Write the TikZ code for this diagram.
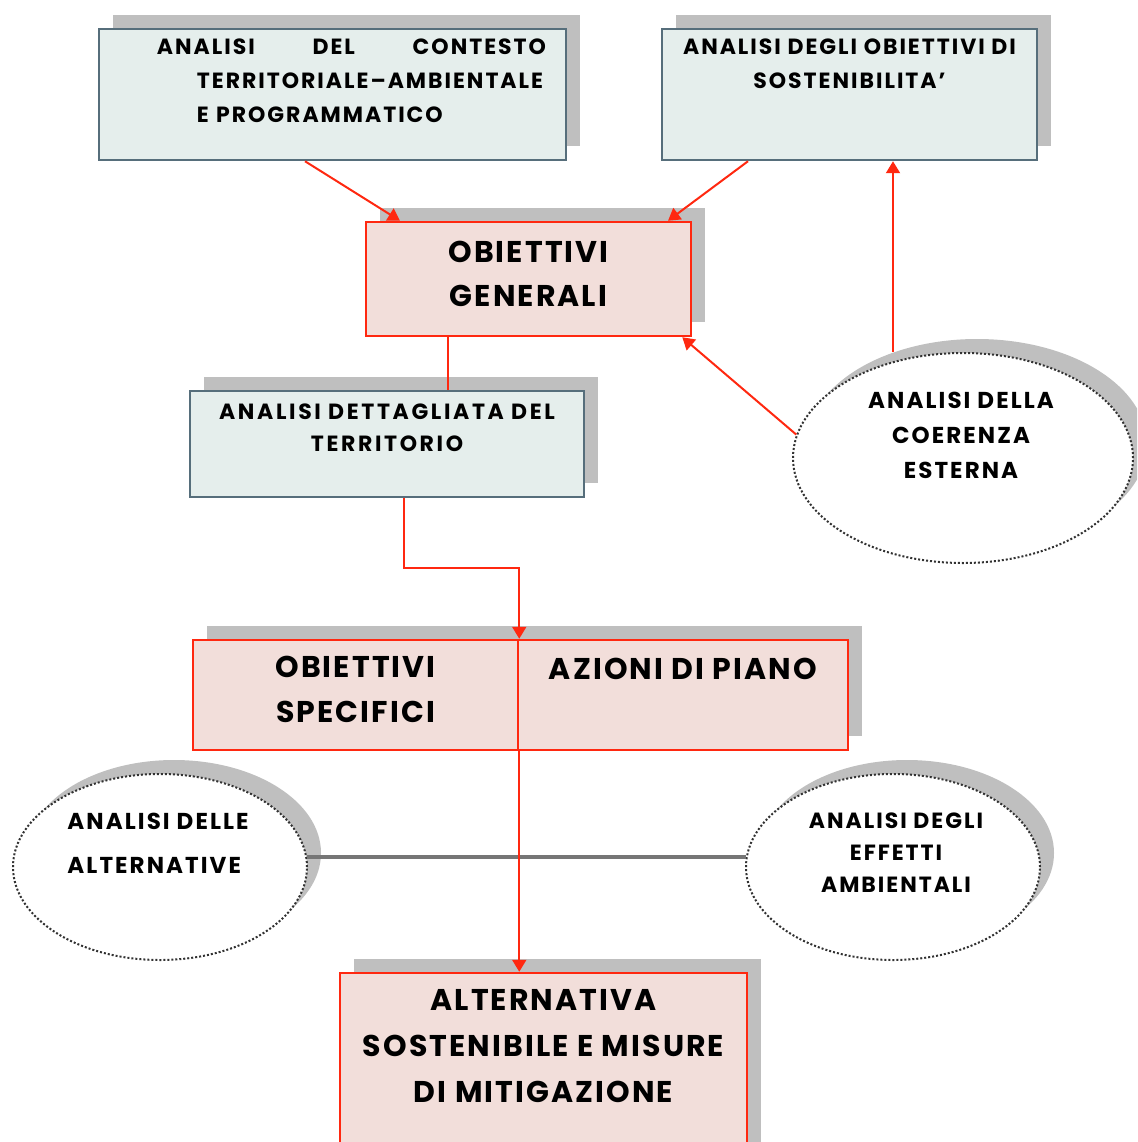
\documentclass[tikz,border=0pt]{standalone}
\usepackage{fontspec}
\setmainfont{Poppins}
\usetikzlibrary{arrows.meta,positioning,shapes.geometric,shadows}

\definecolor{redline}{RGB}{255,40,16}
\definecolor{pinkfill}{RGB}{242,222,218}
\definecolor{bluefill}{RGB}{229,238,236}
\definecolor{boxedge}{RGB}{86,110,123}
\definecolor{shadowgray}{RGB}{191,191,191}
\definecolor{dotgray}{RGB}{50,50,50}
\definecolor{linegray}{RGB}{118,118,118}

\newcommand{\smallfont}[2]{\fontsize{#1}{#2}\selectfont\bfseries\addfontfeature{LetterSpace=9}}
\newcommand{\bigfont}[1]{\fontsize{30}{#1}\selectfont\bfseries\addfontfeature{LetterSpace=7}}

\begin{document}
\begin{tikzpicture}[x=1pt,y=-1pt,>={Triangle[width=14pt,length=12pt]},line join=miter]

    \tikzstyle{box}=[rectangle, line width=2.5pt, inner sep=0pt, drop shadow={shadow xshift=14pt,shadow yshift=14pt,fill=shadowgray,opacity=1}]
    \tikzstyle{bluebox}=[box, draw=boxedge, fill=bluefill]
    \tikzstyle{redbox}=[box, draw=redline, fill=pinkfill]
    \tikzstyle{oval}=[ellipse, inner sep=0pt, minimum width=294pt, minimum height=186pt, draw=dotgray, line width=2pt, dash pattern=on 2pt off 2pt, fill=white, drop shadow={shadow xshift=14pt,shadow yshift=14pt,fill=shadowgray,opacity=1}]
    \tikzstyle{txt}=[inner sep=0pt, align=center]
    \tikzstyle{link}=[draw=redline, line width=2pt]

    \clip (0,0) rectangle (1137,1142);

    % upper boxes
    \node[bluebox, minimum width=467pt, minimum height=131pt] (contesto) at (332.5,94.5) {};
    \node[bluebox, minimum width=375pt, minimum height=131pt] (sost) at (849.5,94.5) {};
    \node[redbox, minimum width=325pt, minimum height=114pt] (gen) at (528.5,279) {};
    \node[bluebox, minimum width=394pt, minimum height=106pt] (terr) at (387,444) {};
    \node[redbox, minimum width=325pt, minimum height=110pt] (spec) at (355.5,695) {};
    \node[redbox, minimum width=330pt, minimum height=110pt] (azioni) at (683,695) {};
    \node[redbox, minimum width=407pt, minimum height=190pt] (altern) at (543.5,1068) {};

    % ovals
    \node[oval, minimum width=340pt, minimum height=210pt] (coer) at (963,458) {};
    \node[oval] (alt) at (160,867) {};
    \node[oval] (eff) at (893,867) {};

    % texts
    \node[txt, font=\smallfont{22}{34}, text width=389pt, align=left, below right=11pt and 59pt of contesto.north west] (contestotxt)
        {ANALISI\hfill DEL\hfill CONTESTO\\\hspace*{40pt}TERRITORIALE–AMBIENTALE\\\hspace*{40pt}E PROGRAMMATICO};
    \node[txt, font=\smallfont{22}{34}, below=11pt of sost.north] (sosttxt) {ANALISI DEGLI OBIETTIVI DI\\SOSTENIBILITA'};
    \node[txt, font=\bigfont{44}, below=20pt of gen.north] (gentxt) {OBIETTIVI\\GENERALI};
    \node[txt, font=\smallfont{22}{32}\addfontfeature{LetterSpace=12}, below=14pt of terr.north] (terrtxt) {ANALISI DETTAGLIATA DEL\\TERRITORIO};
    \node[txt, font=\bigfont{45}, below=17pt of spec.north] (spectxt) {OBIETTIVI\\SPECIFICI};
    \node[txt, font=\bigfont{44}, below=19pt of azioni.north] (azionitxt) {AZIONI DI PIANO};
    \node[txt, font=\bigfont{46}, below=17pt of altern.north] (alterntxt) {ALTERNATIVA\\SOSTENIBILE E MISURE\\DI MITIGAZIONE};
    \node[txt, font=\smallfont{23}{35}, below=40pt of coer.north, xshift=-2pt] (coertxt) {ANALISI DELLA\\COERENZA\\ESTERNA};
    \node[txt, font=\smallfont{23}{44}, align=left, below=40pt of alt.north, xshift=-2pt] (alttxt) {ANALISI DELLE\\ALTERNATIVE};
    \node[txt, font=\smallfont{22}{32}, below=40pt of eff.north, xshift=3pt] (efftxt) {ANALISI DEGLI\\EFFETTI\\AMBIENTALI};

    % connectors
    \draw[linegray, line width=4pt] (alt.4) -- (eff.176);
    \draw[link, ->] ([xshift=-27.5pt]contesto.south) -- ([xshift=-128.5pt]gen.north);
    \draw[link, ->] ([xshift=-101.5pt]sost.south) -- ([xshift=139.5pt]gen.north);
    \draw[link, ->] ([xshift=-70pt]coer.north) -- ([xshift=43.5pt]sost.south);
    \draw[link, ->] (coer.172) -- ([xshift=-10pt]gen.south east);
    \draw[link] ([xshift=-80.5pt]gen.south) -- ([xshift=-80.5pt]gen.south |- terr.north);
    \draw[link, ->] ([xshift=17pt]terr.south) -- ++(0,70) -| (spec.north east);
    \draw[link, ->] (spec.south east) -- (spec.south east |- altern.north);

\end{tikzpicture}
\end{document}
